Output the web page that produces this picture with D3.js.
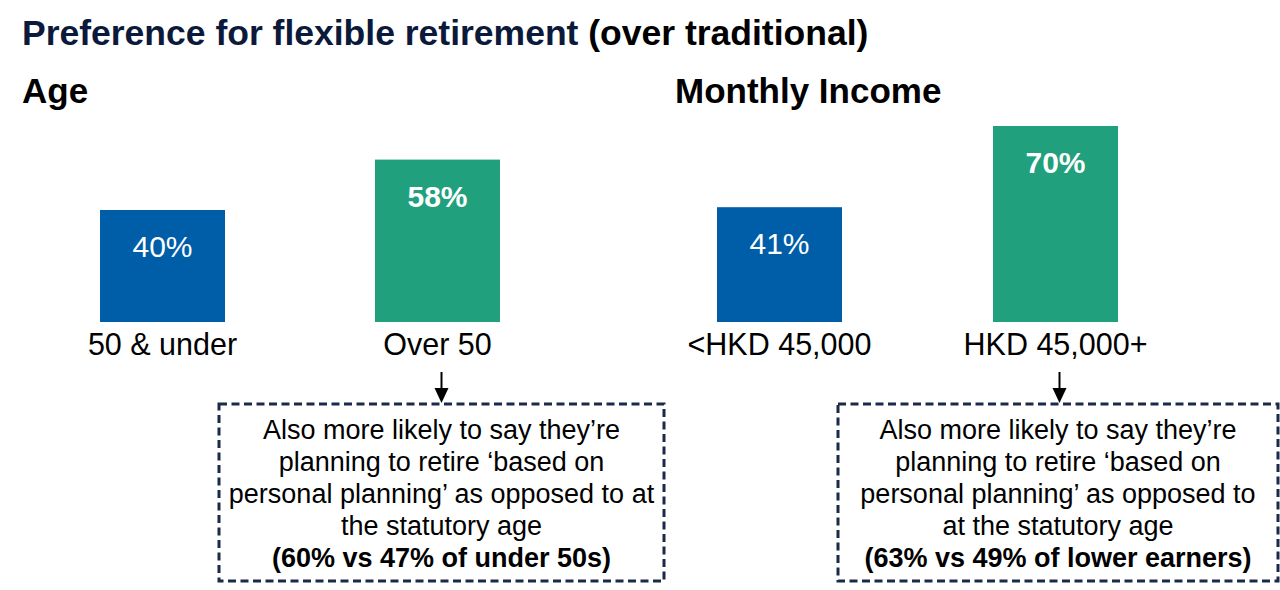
<!DOCTYPE html>
<html>
<head>
<meta charset="utf-8">
<script src="https://cdn.jsdelivr.net/npm/d3@7"></script>
<style>
  body { margin: 0; background: #fff; }
  svg { display: block; font-family: Arial, "Liberation Sans", sans-serif; }
</style>
</head>
<body>
<svg id="chart" width="1280" height="590"></svg>
<script>
// data
var ageCategories = ["50 & under", "Over 50"];
var ageValues = [40, 58];
var incomeCategories = ["<HKD 45,000", "HKD 45,000+"];
var incomeValues = [41, 70];
var ageNote = [
  "Also more likely to say they\u2019re",
  "planning to retire \u2018based on",
  "personal planning\u2019 as opposed to at",
  "the statutory age",
  "(60% vs 47% of under 50s)"
];
var incomeNote = [
  "Also more likely to say they\u2019re",
  "planning to retire \u2018based on",
  "personal planning\u2019 as opposed to",
  "at the statutory age",
  "(63% vs 49% of lower earners)"
];

var blue = "#005da8", green = "#21a07d", navy = "#1b2a4a";

var svg = d3.select("#chart");

svg.append("text")
  .attr("x", 22).attr("y", 45)
  .attr("font-size", 35.5).attr("font-weight", "bold")
  .attr("fill", "#0b1a3a")
  .text("Preference for flexible retirement ");
svg.select("text").append("tspan").attr("fill", "#000").text("(over traditional)");

var y = d3.scaleLinear().domain([0, 100]).range([322, 42]);

function panel(opts) {
  var g = svg.append("g");
  var x = d3.scalePoint().domain(opts.cats).range(opts.centers);
  var bw = 125;

  g.append("text")
    .attr("x", opts.headX).attr("y", 103)
    .attr("font-size", 35).attr("font-weight", "bold").attr("fill", "#000")
    .text(opts.heading);

  var bars = g.selectAll(".bar").data(opts.cats).enter().append("g").attr("class", "bar");

  bars.append("rect")
    .attr("x", function (d) { return x(d) - bw / 2; })
    .attr("width", bw)
    .attr("y", function (d, i) { return y(opts.vals[i]); })
    .attr("height", function (d, i) { return y(0) - y(opts.vals[i]); })
    .attr("fill", function (d, i) { return i === 0 ? blue : green; });

  bars.append("text")
    .attr("x", function (d) { return x(d); })
    .attr("y", function (d, i) { return y(opts.vals[i]) + 47; })
    .attr("text-anchor", "middle")
    .attr("font-size", 30)
    .attr("font-weight", function (d, i) { return i === 1 ? "bold" : "normal"; })
    .attr("fill", "#fff")
    .text(function (d, i) { return opts.vals[i] + "%"; });

  bars.append("text")
    .attr("x", function (d) { return x(d); })
    .attr("y", 355)
    .attr("text-anchor", "middle")
    .attr("font-size", 30.5).attr("fill", "#000")
    .text(function (d) { return d; });

  // arrow from the second category down to the note box
  var ax = x(opts.cats[1]) + 4;
  g.append("line")
    .attr("x1", ax).attr("x2", ax)
    .attr("y1", 372).attr("y2", 390)
    .attr("stroke", "#000").attr("stroke-width", 2);
  g.append("path")
    .attr("d", d3.line()([[ax - 7, 388], [ax + 7, 388], [ax, 403]]) + "Z")
    .attr("fill", "#000");

  g.append("rect")
    .attr("x", opts.box[0]).attr("y", 404)
    .attr("width", opts.box[1] - opts.box[0]).attr("height", 177)
    .attr("fill", "none").attr("stroke", navy)
    .attr("stroke-width", 3).attr("stroke-dasharray", "8,4.5");

  var cx = (opts.box[0] + opts.box[1]) / 2;
  g.selectAll(".note").data(opts.note).enter().append("text")
    .attr("class", "note")
    .attr("x", cx)
    .attr("y", function (d, i) { return 439 + i * 32; })
    .attr("text-anchor", "middle")
    .attr("font-size", 27)
    .attr("font-weight", function (d, i) { return i === opts.note.length - 1 ? "bold" : "normal"; })
    .attr("fill", "#000")
    .text(function (d) { return d; });
}

panel({ heading: "Age", headX: 22, cats: ageCategories, vals: ageValues,
        centers: [162.5, 437.5], box: [219, 664], note: ageNote });
panel({ heading: "Monthly Income", headX: 675, cats: incomeCategories, vals: incomeValues,
        centers: [779.5, 1055.5], box: [838, 1278], note: incomeNote });
</script>
</body>
</html>
